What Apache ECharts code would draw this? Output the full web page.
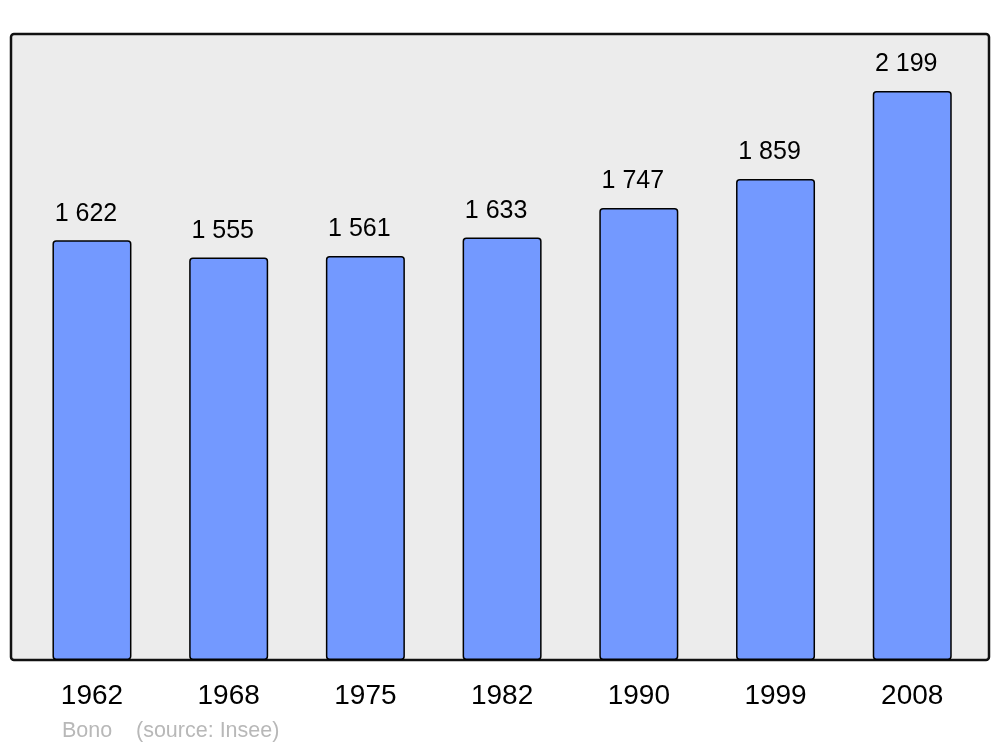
<!DOCTYPE html>
<html>
<head>
<meta charset="utf-8">
<script src="https://cdn.jsdelivr.net/npm/echarts@6/dist/echarts.min.js"></script>
<style>html,body{margin:0;padding:0;background:#fff}#c{width:1000px;height:747px}</style>
</head>
<body>
<div id="c"></div>
<script>
const years = ['1962', '1968', '1975', '1982', '1990', '1999', '2008'];
const population = [1622, 1555, 1561, 1633, 1747, 1859, 2199];
const townName = 'Bono';
const sourceText = '(source: Insee)';

const fmt = v => String(v).replace(/\B(?=(\d{3})+(?!\d))/g, ' ');
const chart = echarts.init(document.getElementById('c'), null, {renderer: 'canvas'});
chart.setOption({
  animation: false,
  textStyle: {fontFamily: 'Liberation Sans, Arial, sans-serif'},
  grid: {left: 23.6, right: 19.4, top: 34, bottom: 87},
  graphic: [
    {type: 'rect', z: -10, shape: {x: 11, y: 34, width: 978, height: 626, r: 3},
     style: {fill: '#ececec', stroke: '#111', lineWidth: 2.5}},
    {type: 'text', left: 62, top: 720, style: {text: townName, fill: '#b8b8b8', font: '21.5px "Liberation Sans", Arial, sans-serif'}},
    {type: 'text', left: 136, top: 720, style: {text: sourceText, fill: '#b8b8b8', font: '21.5px "Liberation Sans", Arial, sans-serif'}}
  ],
  xAxis: {
    type: 'category', data: years,
    axisLine: {show: false}, axisTick: {show: false},
    axisLabel: {color: '#000', fontSize: 28, margin: 22, fontFamily: 'Liberation Sans, Arial, sans-serif'}
  },
  yAxis: {type: 'value', min: 0, max: 2419, show: false, splitLine: {show: false}},
  series: [{
    type: 'bar', data: population, barWidth: 79,
    itemStyle: {color: '#7399ff', borderColor: '#000', borderWidth: 1.5, borderRadius: 3},
    label: {show: true, position: 'top', distance: 14, offset: [-6, 0], color: '#000', fontSize: 25,
      fontFamily: 'Liberation Sans, Arial, sans-serif', formatter: p => fmt(p.value)}
  }]
});
</script>
</body>
</html>
